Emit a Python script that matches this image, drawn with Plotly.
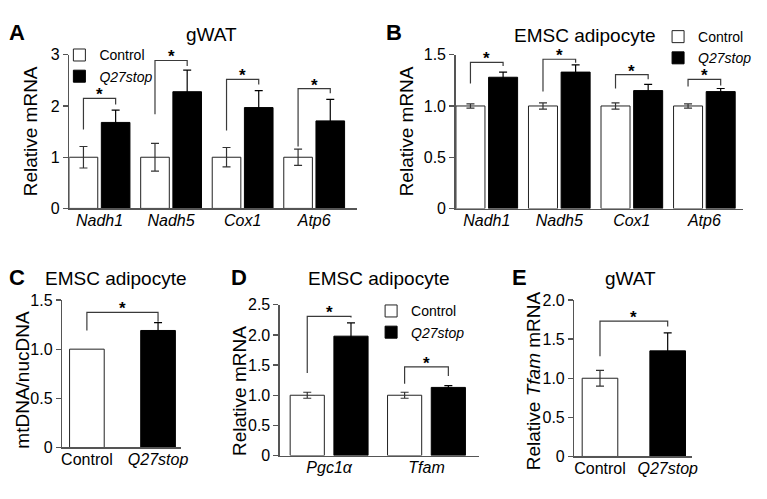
import plotly.graph_objects as go

# ---------------- data ----------------
a_genes = ["Nadh1", "Nadh5", "Cox1", "Atp6"]
a_control = [1.0, 1.0, 1.0, 1.0]
a_control_err = [0.21, 0.27, 0.19, 0.16]
a_q27 = [1.68, 2.28, 1.97, 1.71]
a_q27_err = [0.24, 0.42, 0.33, 0.42]
a_sig_left = [1.54, 1.84, 1.52, 1.21]
a_sig_top = [2.15, 2.89, 2.52, 2.34]
a_sig_right = [2.03, 2.78, 2.42, 2.25]
a_yticks = [0, 1, 2, 3]
a_yticklabels = ["0", "1", "2", "3"]

b_genes = ["Nadh1", "Nadh5", "Cox1", "Atp6"]
b_control = [1.0, 1.0, 1.0, 1.0]
b_control_err = [0.02, 0.03, 0.03, 0.02]
b_q27 = [1.28, 1.33, 1.15, 1.14]
b_q27_err = [0.05, 0.07, 0.06, 0.03]
b_sig_left = [1.22, 1.14, 1.17, 1.19]
b_sig_top = [1.425, 1.455, 1.305, 1.26]
b_sig_right = [1.39, 1.42, 1.26, 1.20]
b_yticks = [0, 0.5, 1.0, 1.5]
b_yticklabels = ["0", "0.5", "1.0", "1.5"]

c_groups = ["Control", "Q27stop"]
c_values = [1.0, 1.19]
c_q27_err = [0.08]
c_sig = [1.19, 1.375, 1.28]  # left end, top, right end
c_yticks = [0, 0.5, 1.0, 1.5]
c_yticklabels = ["0", "0.5", "1.0", "1.5"]

d_genes = ["Pgc1α", "Tfam"]
d_control = [1.0, 1.0]
d_control_err = [0.05, 0.05]
d_q27 = [1.98, 1.13]
d_q27_err = [0.22, 0.03]
d_sig_left = [1.37, 1.19]
d_sig_top = [2.31, 1.47]
d_sig_right = [2.29, 1.32]
d_yticks = [0, 0.5, 1.0, 1.5, 2.0, 2.5]
d_yticklabels = ["0", "0.5", "1.0", "1.5", "2.0", "2.5"]

e_groups = ["Control", "Q27stop"]
e_values = [1.0, 1.35]
e_err = [0.10, 0.23]
e_sig = [1.28, 1.73, 1.66]
e_yticks = [0, 0.5, 1.0, 1.5, 2.0]
e_yticklabels = ["0", "0.5", "1.0", "1.5", "2.0"]

# ---------------- style ----------------
W, H = 767, 499
FONT = "Liberation Sans, Arial, Helvetica, sans-serif"
AX = "#555555"
LINE = "#3a3a3a"
ERR = "#333333"


def px(x):
    return x / W


def py(y):
    return 1 - y / H


fig = go.Figure()


def add_grouped(xa, ya, cats, ctrl, ctrl_err, q27, q27_err, bw, half, legend, showlegend):
    xs = list(range(len(cats)))
    fig.add_trace(go.Bar(
        x=xs, y=ctrl, width=bw, offset=-half - bw / 2, xaxis=xa, yaxis=ya,
        name="Control", legend=legend, showlegend=showlegend,
        marker=dict(color="white", line=dict(color="#222", width=1)),
        error_y=dict(type="data", array=ctrl_err, color=ERR, thickness=1.2, width=4),
        hoverinfo="skip"))
    fig.add_trace(go.Bar(
        x=xs, y=q27, width=bw, offset=half - bw / 2, xaxis=xa, yaxis=ya,
        name="<i>Q27stop</i>", legend=legend, showlegend=showlegend,
        marker=dict(color="black", line=dict(color="black", width=1)),
        error_y=dict(type="data", array=q27_err, color="black", thickness=1.2, width=4),
        hoverinfo="skip"))


def add_brackets(xa, ya, centers, half, left, top, right, yshift=3.5):
    bx, by = [], []
    for c, l, t, r in zip(centers, left, top, right):
        bx += [c - half, c - half, c + half, c + half, None]
        by += [l, t, t, r, None]
        fig.add_annotation(x=c, y=t, xref=xa, yref=ya, text="<b>*</b>", showarrow=False,
                           yshift=yshift, font=dict(size=17, color="black", family=FONT))
    fig.add_trace(go.Scatter(x=bx, y=by, xaxis=xa, yaxis=ya, mode="lines",
                             line=dict(color=LINE, width=1.2), showlegend=False,
                             cliponaxis=False, hoverinfo="skip"))


# Panel A
add_grouped("x", "y", a_genes, a_control, a_control_err, a_q27, a_q27_err, 0.40, 0.225, "legend", True)
add_brackets("x", "y", list(range(len(a_genes))), 0.225, a_sig_left, a_sig_top, a_sig_right)
# Panel B
add_grouped("x2", "y2", b_genes, b_control, b_control_err, b_q27, b_q27_err, 0.40, 0.225, "legend2", True)
add_brackets("x2", "y2", list(range(len(b_genes))), 0.225, b_sig_left, b_sig_top, b_sig_right)
# Panel C
fig.add_trace(go.Bar(x=[0], y=[c_values[0]], width=0.487, xaxis="x3", yaxis="y3", showlegend=False,
                     marker=dict(color="white", line=dict(color="#222", width=1)), hoverinfo="skip"))
fig.add_trace(go.Bar(x=[1], y=[c_values[1]], width=0.487, xaxis="x3", yaxis="y3", showlegend=False,
                     marker=dict(color="black", line=dict(color="black", width=1)),
                     error_y=dict(type="data", array=c_q27_err, color="black", thickness=1.2, width=4),
                     hoverinfo="skip"))
add_brackets("x3", "y3", [0.5], 0.5, [c_sig[0]], [c_sig[1]], [c_sig[2]])
# Panel D
add_grouped("x4", "y4", d_genes, d_control, d_control_err, d_q27, d_q27_err, 0.351, 0.2246, "legend3", True)
add_brackets("x4", "y4", list(range(len(d_genes))), 0.2246, d_sig_left, d_sig_top, d_sig_right)
# Panel E
fig.add_trace(go.Bar(x=[0], y=[e_values[0]], width=0.526, xaxis="x5", yaxis="y5", showlegend=False,
                     marker=dict(color="white", line=dict(color="#222", width=1)),
                     error_y=dict(type="data", array=[e_err[0]], color=ERR, thickness=1.2, width=4),
                     hoverinfo="skip"))
fig.add_trace(go.Bar(x=[1], y=[e_values[1]], width=0.526, xaxis="x5", yaxis="y5", showlegend=False,
                     marker=dict(color="black", line=dict(color="black", width=1)),
                     error_y=dict(type="data", array=[e_err[1]], color="black", thickness=1.2, width=4),
                     hoverinfo="skip"))
add_brackets("x5", "y5", [0.5], 0.5, [e_sig[0]], [e_sig[1]], [e_sig[2]])


def xaxis(dom, rng, cats, anchor, italic_all=True, italic_idx=None):
    if italic_all:
        tt = ["<i>%s</i>" % c for c in cats]
    else:
        tt = ["<i>%s</i>" % c if i in italic_idx else c for i, c in enumerate(cats)]
    return dict(domain=[px(dom[0]), px(dom[1])], range=rng, anchor=anchor,
                tickmode="array", tickvals=list(range(len(cats))), ticktext=tt,
                showline=True, linecolor=AX, linewidth=1.3, ticks="", showgrid=False,
                zeroline=False, tickfont=dict(size=16, color="black", family=FONT),
                ticklabelstandoff=-3, fixedrange=True)


def yaxis(dom, rng, vals, labels, anchor):
    return dict(domain=[py(dom[1]), py(dom[0])], range=rng, anchor=anchor,
                tickmode="array", tickvals=vals, ticktext=labels,
                showline=True, linecolor=AX, linewidth=1.3, ticks="outside", ticklen=5,
                tickcolor=AX, tickwidth=1.3, showgrid=False, zeroline=False,
                tickfont=dict(size=16, color="black", family=FONT), fixedrange=True)


fig.update_layout(
    xaxis=xaxis((69, 360), [-0.423, 3.602], a_genes, "y"),
    yaxis=yaxis((48.5, 207.5), [0, 3], a_yticks, a_yticklabels, "x"),
    xaxis2=xaxis((459.3, 750), [-0.431, 3.535], b_genes, "y2"),
    yaxis2=yaxis((48.3, 207.7), [0, 1.5], b_yticks, b_yticklabels, "x2"),
    xaxis3=xaxis((61.7, 182), [-0.349, 1.324], c_groups, "y3", False, [1]),
    yaxis3=yaxis((302.3, 455), [0, 1.5], c_yticks, c_yticklabels, "x3"),
    xaxis4=xaxis((281.7, 482.7), [-0.507, 1.536], d_genes, "y4"),
    yaxis4=yaxis((307.3, 463.3), [0, 2.5], d_yticks, d_yticklabels, "x4"),
    xaxis5=xaxis((579.3, 698), [-0.38, 1.355], e_groups, "y5", False, [1]),
    yaxis5=yaxis((302.3, 464.3), [0, 2.0], e_yticks, e_yticklabels, "x5"),
)

leg_common = dict(font=dict(size=14, color="black", family=FONT), bgcolor="rgba(0,0,0,0)",
                  borderwidth=0, xanchor="left", yanchor="top", tracegroupgap=0,
                  itemclick=False, itemdoubleclick=False)
fig.update_layout(
    legend=dict(x=px(59), y=py(32.5), **leg_common),
    legend2=dict(x=px(664), y=py(13.5), **leg_common),
    legend3=dict(x=px(374), y=py(297.5), **leg_common),
)

annos = [
    # panel letters
    ("A", 16.5, 25.5, 0, 22, True), ("B", 397, 25.5, 0, 22, True), ("C", 16, 278.7, 0, 22, True),
    ("D", 241, 278.7, 0, 22, True), ("E", 524, 278.7, 0, 22, True),
    # titles
    ("gWAT", 213, 27, 0, 19, False), ("EMSC adipocyte", 590, 28, 0, 19, False),
    ("EMSC adipocyte", 116.7, 280, 0, 19, False), ("EMSC adipocyte", 381.7, 280, 0, 19, False),
    ("gWAT", 635.8, 280, 0, 19, False),
    # y axis titles
    ("Relative mRNA", 30, 128, -90, 19, False), ("Relative mRNA", 410, 128, -90, 19, False),
    ("mtDNA/nucDNA", 22, 385, -90, 19, False), ("Relative mRNA", 241, 396, -90, 19, False),
    ("Relative <i>Tfam</i> mRNA", 538, 386, -90, 19, False),
]
for t, x, y, ang, sz, bold in annos:
    fig.add_annotation(x=px(x), y=py(y), xref="paper", yref="paper", text=("<b>%s</b>" % t) if bold else t,
                       showarrow=False, textangle=ang, xanchor="center", yanchor="middle",
                       font=dict(size=sz, color="black", family=FONT))

fig.update_layout(
    width=W, height=H, autosize=False, margin=dict(l=0, r=0, t=0, b=0),
    paper_bgcolor="white", plot_bgcolor="white", barmode="overlay",
    font=dict(family=FONT, color="black"), hovermode=False,
)

fig.write_html("out.html", config={"displayModeBar": False, "staticPlot": True},
               post_script="document.body.style.margin='0';document.body.style.overflow='hidden';")
